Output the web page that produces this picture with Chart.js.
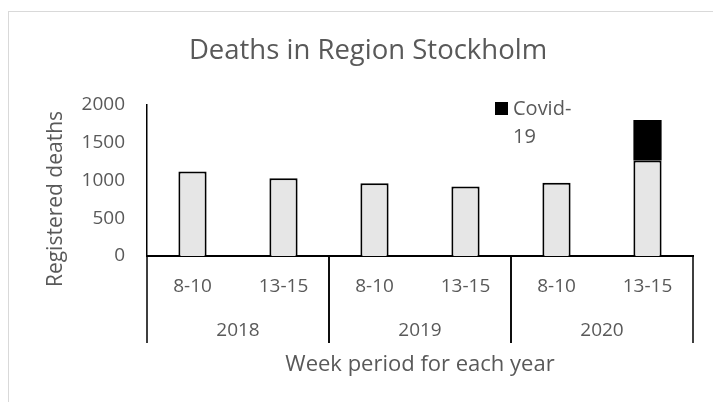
<!DOCTYPE html>
<html>
<head>
<meta charset="utf-8">
<script src="https://cdn.jsdelivr.net/npm/chart.js@4"></script>
<style>
  html, body { margin: 0; padding: 0; background: #fff; }
  #wrap { width: 713px; height: 402px; }
</style>
</head>
<body>
<div id="wrap"><canvas id="deathChart" width="713" height="402"></canvas></div>
<script>
const years = ['2018', '2019', '2020'];
const periods = ['8-10', '13-15'];
const otherDeaths = [1120, 1030, 965, 920, 970, 1265];
const covidDeaths = [0, 0, 0, 0, 0, 535];
const yTicks = [0, 500, 1000, 1500, 2000];

const labels = years.flatMap(() => periods);
const textColor = '#595959';
const fontFamily = '"Open Sans", "Noto Sans", sans-serif';

// year row, separators, y title, legend and outer frame
const extras = {
  id: 'extras',
  beforeDraw(chart) {
    const c = chart.ctx;
    c.save();
    c.fillStyle = '#fff';
    c.fillRect(0, 0, chart.width, chart.height);
    c.strokeStyle = '#d9d9d9';
    c.lineWidth = 1;
    c.strokeRect(8.5, 11.5, 800, 500);
    c.restore();
  },
  afterDraw(chart) {
    const c = chart.ctx;
    const x = chart.scales.x;
    const area = chart.chartArea;
    const n = periods.length;
    const yTop = area.bottom;
    const yBot = area.bottom + 87;
    const half = (x.getPixelForValue(1) - x.getPixelForValue(0)) / 2;
    c.save();
    c.strokeStyle = '#000';
    c.lineWidth = 1.5;
    c.fillStyle = textColor;
    c.font = '19px ' + fontFamily;
    c.textAlign = 'center';
    c.textBaseline = 'middle';
    years.forEach((yr, i) => {
      const l = x.getPixelForValue(i * n) - half;
      const r = x.getPixelForValue(i * n + n - 1) + half;
      c.beginPath();
      c.moveTo(l, yTop); c.lineTo(l, yBot);
      c.moveTo(r, yTop); c.lineTo(r, yBot);
      c.stroke();
      c.fillText(yr, (l + r) / 2, area.bottom + 75);
    });

    // y axis title, sits a bit lower than the plot centre in the original
    c.save();
    c.translate(56, 199);
    c.rotate(-Math.PI / 2);
    c.font = '21px ' + fontFamily;
    c.fillText('Registered deaths', 0, 0);
    c.restore();

    // legend (only the covid series, wrapped like the original)
    const covidLabel = chart.data.datasets[1].label;
    c.fillStyle = '#000';
    c.fillRect(495, 102, 13, 13);
    c.fillStyle = textColor;
    c.textAlign = 'left';
    c.font = '20px ' + fontFamily;
    c.fillText(covidLabel.slice(0, 6), 513, 109);
    c.fillText(covidLabel.slice(6), 513, 137);
    c.restore();
  }
};

new Chart(document.getElementById('deathChart'), {
  type: 'bar',
  data: {
    labels: labels,
    datasets: [{
      label: 'Other',
      data: otherDeaths,
      backgroundColor: '#e6e6e6',
      borderColor: '#000',
      borderWidth: 2,
      barPercentage: 0.31,
      categoryPercentage: 1
    }, {
      label: 'Covid-19',
      data: covidDeaths,
      backgroundColor: '#000',
      borderColor: '#000',
      borderWidth: 0,
      barPercentage: 0.31,
      categoryPercentage: 1
    }]
  },
  options: {
    responsive: false,
    animation: false,
    layout: { padding: { left: 43, right: 20, top: 0, bottom: 24 } },
    plugins: {
      legend: { display: false },
      tooltip: { enabled: false },
      title: {
        display: true,
        text: 'Deaths in Region Stockholm',
        color: textColor,
        font: { family: fontFamily, size: 27.5, weight: 'normal' },
        padding: { top: 35, bottom: 37 }
      }
    },
    scales: {
      x: {
        stacked: true,
        grid: { display: false, drawTicks: false },
        border: { display: true, color: '#000', width: 2 },
        ticks: {
          color: textColor,
          font: { family: fontFamily, size: 19 },
          padding: 19,
          maxRotation: 0
        },
        title: {
          display: true,
          text: 'Week period for each year',
          color: textColor,
          font: { family: fontFamily, size: 22 },
          padding: { top: 0, bottom: 0 }
        },
        afterFit(scale) { scale.height = 122; }
      },
      y: {
        stacked: true,
        min: 0,
        max: 2000,
        afterBuildTicks(scale) { scale.ticks = yTicks.map(v => ({ value: v })); },
        grid: { display: false, drawTicks: false },
        border: { display: true, color: '#000', width: 1.5 },
        ticks: {
          color: textColor,
          font: { family: fontFamily, size: 19 },
          padding: 22,
          callback: v => String(v)
        },
        afterFit(scale) { scale.width = 104; }
      }
    }
  },
  plugins: [extras]
});
</script>
</body>
</html>
